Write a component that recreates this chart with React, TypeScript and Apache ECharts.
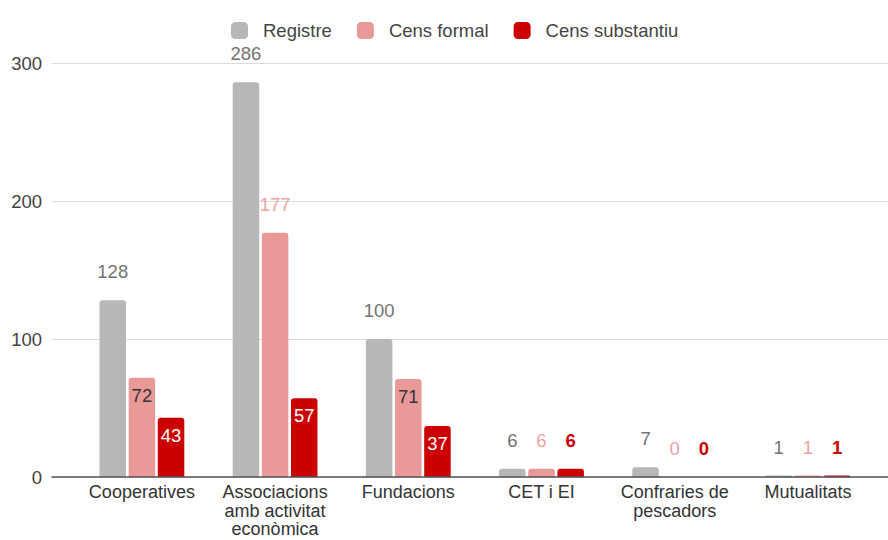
import React, { useEffect, useRef } from "react";
import * as echarts from "echarts";

const categories = [
  "Cooperatives",
  "Associacions\namb activitat\neconòmica",
  "Fundacions",
  "CET i EI",
  "Confraries de\npescadors",
  "Mutualitats",
];
const registre = [128, 286, 100, 6, 7, 1];
const censFormal = [72, 177, 71, 6, 0, 1];
const censSubstantiu = [43, 57, 37, 6, 0, 1];
// which labels sit inside the bar top
const formalInside = [true, false, true, false, false, false];
const substantiuInside = [true, true, true, false, false, false];
const yTicks = [0, 100, 200, 300];

const FONT = "'Liberation Sans', Arial, sans-serif";
const FS = 18.5;
const GRAY = "#b7b7b7";
const PINK = "#ea9999";
const RED = "#cc0000";

export default function App() {
  const ref = useRef<HTMLDivElement>(null);
  useEffect(() => {
    if (!ref.current) return;
    const chart = echarts.init(ref.current, undefined, { renderer: "svg" });
    const above = (color: string, bold = false) => ({
      show: true,
      position: "top",
      distance: 19,
      color,
      fontSize: FS,
      fontFamily: FONT,
      fontWeight: bold ? "bold" : "normal",
    });
    const inside = (color: string) => ({
      show: true,
      position: "insideTop",
      distance: 8,
      color,
      fontSize: FS,
      fontFamily: FONT,
    });
    const radius = [3, 3, 0, 0];
    chart.setOption({
      animation: false,
      textStyle: { fontFamily: FONT },
      legend: {
        top: 16,
        left: 226,
        itemWidth: 17,
        itemHeight: 17,
        itemGap: 25,
        icon: "roundRect",
        textStyle: { fontSize: FS, color: "#444", fontFamily: FONT, padding: [0, 0, 0, 10] },
        data: ["Registre", "Cens formal", "Cens substantiu"],
      },
      grid: [
        { left: 52, right: 0, top: 63, bottom: 63, containLabel: false, outerBoundsMode: "none" },
        { left: 75.3, right: 13.5, top: 63, bottom: 63, containLabel: false, outerBoundsMode: "none" },
      ],
      xAxis: [
        {
          gridIndex: 0,
          type: "category",
          data: [""],
          axisLine: { show: true, lineStyle: { color: "#555", width: 1.5 } },
          axisTick: { show: false },
          axisLabel: { show: false },
          z: 5,
        },
        {
          gridIndex: 1,
          type: "category",
          data: categories,
          axisLine: { show: false },
          axisTick: { show: false },
          axisLabel: {
            margin: 6,
            fontSize: 18,
            lineHeight: 18.5,
            color: "#333",
            fontFamily: FONT,
            interval: 0,
          },
        },
      ],
      yAxis: [
        {
          gridIndex: 0,
          type: "value",
          min: yTicks[0],
          max: yTicks[yTicks.length - 1],
          interval: 100,
          axisLine: { show: false },
          axisTick: { show: false },
          axisLabel: { margin: 10, fontSize: FS, color: "#444", fontFamily: FONT },
          splitLine: { lineStyle: { color: "#dcdcdc", width: 1.2 } },
        },
        {
          gridIndex: 1,
          type: "value",
          min: 0,
          max: 300,
          interval: 100,
          show: false,
          splitLine: { show: false },
        },
      ],
      series: [
        {
          name: "Registre",
          type: "bar",
          xAxisIndex: 1,
          yAxisIndex: 1,
          barWidth: 26.5,
          barGap: "10%",
          itemStyle: { color: GRAY, borderRadius: radius },
          label: above("#737373"),
          data: registre,
        },
        {
          name: "Cens formal",
          type: "bar",
          xAxisIndex: 1,
          yAxisIndex: 1,
          barWidth: 26.5,
          barGap: "10%",
          itemStyle: { color: PINK, borderRadius: radius },
          data: censFormal.map((v, i) => ({
            value: v,
            label: formalInside[i] ? inside("#333") : above("#eea3a3"),
          })),
        },
        {
          name: "Cens substantiu",
          type: "bar",
          xAxisIndex: 1,
          yAxisIndex: 1,
          barWidth: 26.5,
          barGap: "10%",
          itemStyle: { color: RED, borderRadius: radius },
          data: censSubstantiu.map((v, i) => ({
            value: v,
            label: substantiuInside[i] ? inside("#ffffff") : above(RED, true),
          })),
        },
      ],
    });
    return () => chart.dispose();
  }, []);
  return (
    <div
      ref={ref}
      style={{ position: "fixed", left: 0, top: 0, width: 888, height: 540, background: "#fff" }}
    />
  );
}
